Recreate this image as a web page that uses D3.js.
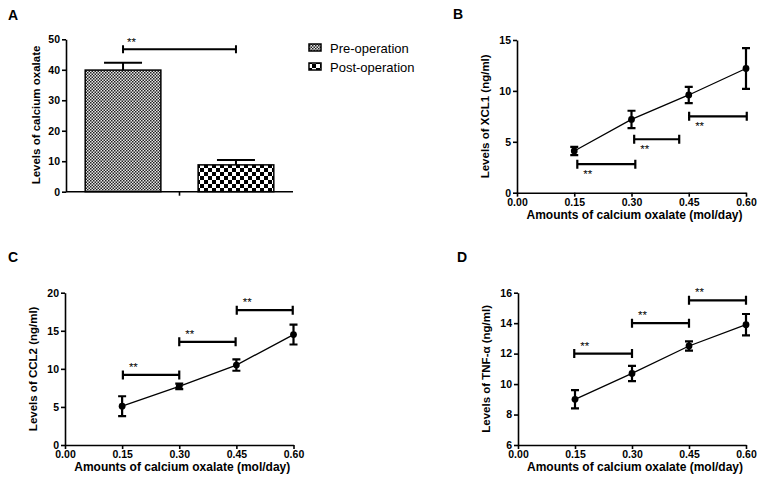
<!DOCTYPE html>
<html><head><meta charset="utf-8">
<script src="https://cdn.jsdelivr.net/npm/d3@7"></script>
<style>body{margin:0;background:#fff}svg{display:block;font-family:"Liberation Sans",Arial,sans-serif}</style>
</head><body><svg id="c" width="761" height="486"></svg>
<script>
// ---- data ----
const groups = ["Pre-operation", "Post-operation"];
const oxalateMean = [39.9, 8.8];
const oxalateErr = [2.4, 1.6];
const oxalateBracket = [[0, 1, 46.7]];
const oxalateTicks = [0, 10, 20, 30, 40, 50];

const doses = [0.15, 0.30, 0.45, 0.60];
const doseTicks = [0, 0.15, 0.30, 0.45, 0.60];

const xcl1Mean = [4.1, 7.2, 9.6, 12.2];
const xcl1Err = [0.4, 0.85, 0.8, 2.0];
const xcl1Brackets = [[0.158, 0.31, 2.8], [0.307, 0.425, 5.25], [0.451, 0.602, 7.5]];
const xcl1Ticks = [0, 5, 10, 15];

const ccl2Mean = [5.1, 7.7, 10.5, 14.5];
const ccl2Err = [1.3, 0.35, 0.75, 1.3];
const ccl2Brackets = [[0.152, 0.30, 9.2], [0.30, 0.448, 13.55], [0.451, 0.598, 17.7]];
const ccl2Ticks = [0, 5, 10, 15, 20];

const tnfMean = [9.0, 10.7, 12.5, 13.9];
const tnfErr = [0.6, 0.5, 0.3, 0.7];
const tnfBrackets = [[0.148, 0.30, 12.0], [0.30, 0.45, 14.0], [0.45, 0.60, 15.5]];
const tnfTicks = [6, 8, 10, 12, 14, 16];

// ---- drawing ----
const svg = d3.select("#c");
const defs = svg.append("defs");
const p1 = defs.append("pattern").attr("id", "fine").attr("patternUnits", "userSpaceOnUse")
  .attr("width", 3).attr("height", 3);
p1.append("rect").attr("width", 3).attr("height", 3).attr("fill", "#e8e8e8");
p1.append("rect").attr("width", 1.5).attr("height", 1.5).attr("fill", "#222");
p1.append("rect").attr("x", 1.5).attr("y", 1.5).attr("width", 1.5).attr("height", 1.5).attr("fill", "#222");
const p2 = defs.append("pattern").attr("id", "coarse").attr("patternUnits", "userSpaceOnUse")
  .attr("width", 8).attr("height", 8);
p2.append("rect").attr("width", 8).attr("height", 8).attr("fill", "#fff");
p2.append("rect").attr("width", 4).attr("height", 4).attr("fill", "#000");
p2.append("rect").attr("x", 4).attr("y", 4).attr("width", 4).attr("height", 4).attr("fill", "#000");
const fills = ["url(#fine)", "url(#coarse)"];

const tickFont = 10.5, titleFont = 12;
function styleAxis(g) {
  g.selectAll("path.domain").attr("stroke", "#000").attr("stroke-width", 1.6);
  g.selectAll(".tick line").attr("stroke", "#000").attr("stroke-width", 1.6);
  g.selectAll(".tick text").attr("font-size", tickFont).attr("font-weight", "bold").attr("fill", "#000")
    .attr("font-family", '"Liberation Sans",Arial,sans-serif');
}
function panelLabel(t, x, y) {
  svg.append("text").attr("x", x).attr("y", y).attr("font-size", 14).attr("font-weight", "bold").text(t);
}
function yTitle(t, x, yc) {
  svg.append("text").attr("transform", `translate(${x},${yc}) rotate(-90)`).attr("text-anchor", "middle")
    .attr("font-size", 11.5).attr("font-weight", "bold").text(t);
}

// Panel A
{
  const x = d3.scaleBand().domain(groups).range([66, 293]).paddingInner(0.33).paddingOuter(0.17);
  const y = d3.scaleLinear().domain([0, 50]).range([191.7, 39.3]);
  const g = svg.append("g");
  g.selectAll("rect.bar").data(groups).join("rect")
    .attr("x", d => x(d)).attr("width", x.bandwidth())
    .attr("y", (d, i) => y(oxalateMean[i])).attr("height", (d, i) => y(0) - y(oxalateMean[i]))
    .attr("fill", (d, i) => fills[i]).attr("stroke", "#000").attr("stroke-width", 1.5);
  groups.forEach((d, i) => {
    const cx = x(d) + x.bandwidth() / 2;
    g.append("line").attr("x1", cx).attr("x2", cx).attr("y1", y(oxalateMean[i])).attr("y2", y(oxalateMean[i] + oxalateErr[i]))
      .attr("stroke", "#000").attr("stroke-width", 2);
    g.append("line").attr("x1", cx - 19).attr("x2", cx + 19).attr("y1", y(oxalateMean[i] + oxalateErr[i])).attr("y2", y(oxalateMean[i] + oxalateErr[i]))
      .attr("stroke", "#000").attr("stroke-width", 2);
  });
  const ya = g.append("g").attr("transform", "translate(66,0)")
    .call(d3.axisLeft(y).tickValues(oxalateTicks).tickSize(4).tickPadding(2).tickSizeOuter(0));
  styleAxis(ya);
  const xr = x.range();
  g.append("line").attr("x1", xr[0]).attr("x2", xr[1]).attr("y1", y(0)).attr("y2", y(0)).attr("stroke", "#000").attr("stroke-width", 1.6);
  const mid = (xr[0] + xr[1]) / 2;
  g.append("line").attr("x1", mid).attr("x2", mid).attr("y1", y(0)).attr("y2", y(0) + 4).attr("stroke", "#000").attr("stroke-width", 1.6);
  oxalateBracket.forEach(b => {
    const x1 = x(groups[b[0]]) + x.bandwidth() / 2, x2 = x(groups[b[1]]) + x.bandwidth() / 2, yy = y(b[2]);
    g.append("path").attr("d", `M${x1},${yy - 4}V${yy + 4}M${x1},${yy}H${x2}M${x2},${yy - 4}V${yy + 4}`)
      .attr("stroke", "#000").attr("stroke-width", 2).attr("fill", "none");
    g.append("text").attr("x", x1 + 4).attr("y", yy - 3).attr("font-size", 11.5).text("**");
  });
  yTitle("Levels of calcium oxalate", 40, 115);
  groups.forEach((d, i) => {
    const ly = 44 + i * 19;
    svg.append("rect").attr("x", 309).attr("y", ly).attr("width", 12).attr("height", 7)
      .attr("fill", fills[i]).attr("stroke", "#000").attr("stroke-width", 1.5);
    svg.append("text").attr("x", 330).attr("y", ly + 8.5).attr("font-size", 13).text(d);
  });
  panelLabel("A", 8, 20);
}

function linePanel(o) {
  const x = d3.scaleLinear().domain([0, 0.6]).range([o.x0, o.x1]);
  const y = d3.scaleLinear().domain(o.ydom).range([o.y0, o.y1]);
  const g = svg.append("g");
  const xa = g.append("g").attr("transform", `translate(0,${o.y0})`)
    .call(d3.axisBottom(x).tickValues(doseTicks).tickFormat(d3.format(".2f")).tickSize(4).tickPadding(1.5).tickSizeOuter(0));
  styleAxis(xa);
  const ya = g.append("g").attr("transform", `translate(${o.x0},0)`)
    .call(d3.axisLeft(y).tickValues(o.ticks).tickSize(4).tickPadding(2).tickSizeOuter(0));
  styleAxis(ya);
  const pts = doses.map((d, i) => [d, o.mean[i], o.err[i]]);
  g.append("path").attr("d", d3.line().x(d => x(d[0])).y(d => y(d[1]))(pts))
    .attr("fill", "none").attr("stroke", "#000").attr("stroke-width", 1.3);
  pts.forEach(p => {
    const cx = x(p[0]);
    const lo = y(p[1] - p[2]), hi = y(p[1] + p[2]);
    g.append("path").attr("d", `M${cx},${lo}V${hi}M${cx - 4},${lo}H${cx + 4}M${cx - 4},${hi}H${cx + 4}`)
      .attr("stroke", "#000").attr("stroke-width", 2.2).attr("fill", "none");
    g.append("circle").attr("cx", cx).attr("cy", y(p[1])).attr("r", 3.4).attr("fill", "#000");
  });
  o.brackets.forEach(b => {
    const x1 = x(b[0]), x2 = x(b[1]), yy = y(b[2]);
    g.append("path").attr("d", `M${x1},${yy - 4.5}V${yy + 4.5}M${x1},${yy}H${x2}M${x2},${yy - 4.5}V${yy + 4.5}`)
      .attr("stroke", "#000").attr("stroke-width", 2.2).attr("fill", "none");
    if (o.below) g.append("text").attr("x", x1 + 6).attr("y", yy + 14).attr("font-size", 11.5).text("**");
    else g.append("text").attr("x", x1 + 6).attr("y", yy - 4).attr("font-size", 11.5).text("**");
  });
  svg.append("text").attr("x", (o.x0 + o.x1) / 2 + 3).attr("y", o.y0 + 26).attr("text-anchor", "middle")
    .attr("font-size", titleFont).attr("font-weight", "bold").text("Amounts of calcium oxalate (mol/day)");
  yTitle(o.ytitle, o.x0 - 28, (o.y0 + o.y1) / 2);
  panelLabel(o.label, o.lx, o.ly);
}

linePanel({x0: 517, x1: 746, y0: 192.7, y1: 40, ydom: [0, 15], ticks: xcl1Ticks, mean: xcl1Mean, err: xcl1Err,
  brackets: xcl1Brackets, below: true, ytitle: "Levels of XCL1 (ng/ml)", label: "B", lx: 453, ly: 19});
linePanel({x0: 65, x1: 293.5, y0: 445, y1: 292.7, ydom: [0, 20], ticks: ccl2Ticks, mean: ccl2Mean, err: ccl2Err,
  brackets: ccl2Brackets, below: false, ytitle: "Levels of CCL2 (ng/ml)", label: "C", lx: 8, ly: 262});
linePanel({x0: 518, x1: 746, y0: 445, y1: 292.7, ydom: [6, 16], ticks: tnfTicks, mean: tnfMean, err: tnfErr,
  brackets: tnfBrackets, below: false, ytitle: "Levels of TNF-α  (ng/ml)", label: "D", lx: 457, ly: 262});
</script></body></html>
